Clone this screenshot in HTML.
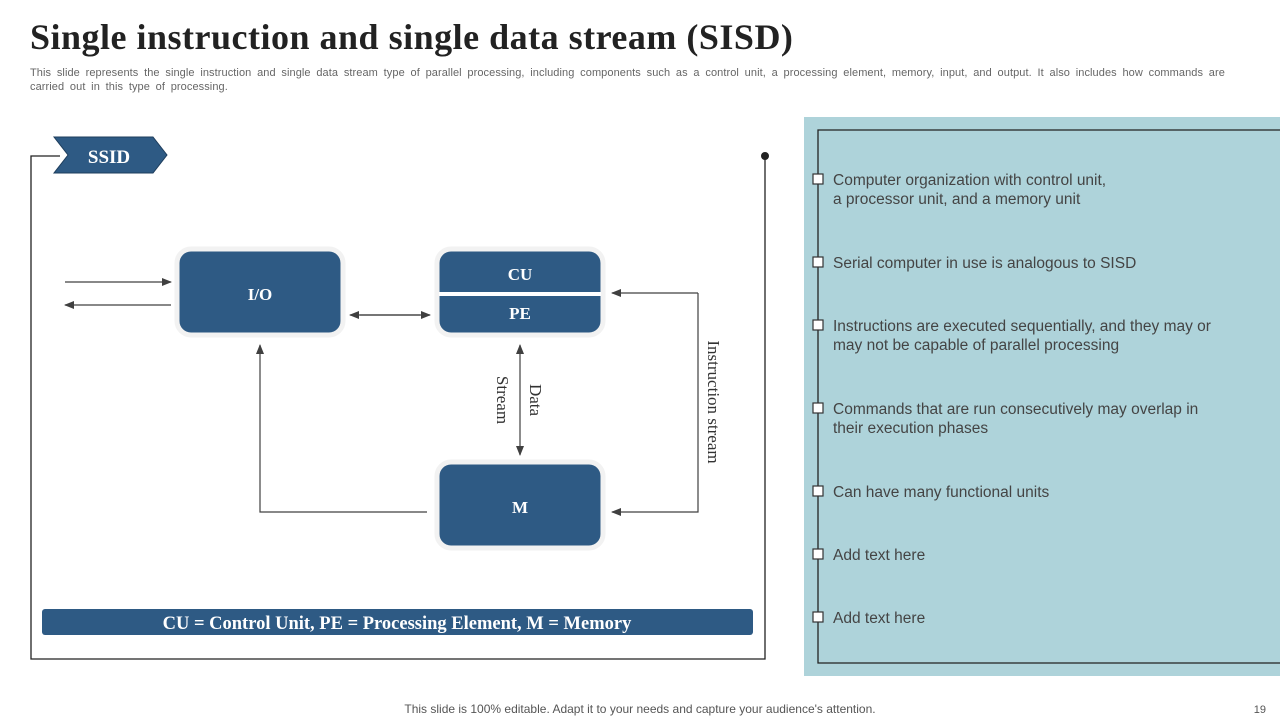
<!DOCTYPE html>
<html><head><meta charset="utf-8"><style>
body{margin:0;width:1280px;height:720px;background:#fff;position:relative;overflow:hidden;font-family:"Liberation Sans",sans-serif}
.t{position:absolute}
</style></head><body>
<div class="t" style="left:30px;top:16px;font:bold 36px 'Liberation Serif',serif;letter-spacing:0.5px;color:#222">Single instruction and single data stream (SISD)</div>
<div class="t" style="left:30px;top:66px;width:1240px;font-size:11px;line-height:14px;color:#666;white-space:nowrap;letter-spacing:0.08px;word-spacing:2.6px">This slide represents the single instruction and single data stream type of parallel processing, including components such as a control unit, a processing element, memory, input, and output. It also includes how commands are<br>carried out in this type of processing.</div>
<div class="t" style="left:804px;top:117px;width:476px;height:559px;background:#aed3da"></div>
<svg class="t" style="left:0;top:0" width="1280" height="720">
<defs><marker id="a" markerWidth="10" markerHeight="8" refX="9" refY="4" orient="auto" markerUnits="userSpaceOnUse"><path d="M0,0L10,4L0,8z" fill="#404040"/></marker></defs>
<g fill="none" stroke="#222" stroke-width="1.3">
<polyline points="60,156 31,156 31,659 765,659 765,156"/>
<polyline points="1280,130 818,130 818,663 1280,663"/>
</g>
<circle cx="765" cy="156" r="4" fill="#222"/>
<polygon points="54,137 153,137 167,155 153,173 54,173 68,155" fill="#2e5a84" stroke="#1e3d5c"/>
<text x="109" y="163" font-family="Liberation Serif" font-weight="bold" font-size="19" fill="#fff" text-anchor="middle">SSID</text>
<g fill="#2e5a84" stroke="#f2f2f2" stroke-width="5">
<rect x="177" y="249" width="166" height="86" rx="14"/>
<rect x="437" y="249" width="166" height="86" rx="14"/>
<rect x="437" y="462" width="166" height="86" rx="14"/>
</g>
<line x1="439" y1="294" x2="601" y2="294" stroke="#fff" stroke-width="4"/>
<g font-family="Liberation Serif" font-weight="bold" font-size="17" fill="#fff" text-anchor="middle">
<text x="260" y="300">I/O</text><text x="520" y="280">CU</text><text x="520" y="319">PE</text><text x="520" y="513">M</text>
</g>
<g stroke="#404040" stroke-width="1.2" fill="none">
<line x1="65" y1="282" x2="171" y2="282" marker-end="url(#a)"/>
<line x1="171" y1="305" x2="65" y2="305" marker-end="url(#a)"/>
<line x1="360" y1="315" x2="430" y2="315" marker-end="url(#a)"/>
<line x1="420" y1="315" x2="350" y2="315" marker-end="url(#a)"/>
<line x1="520" y1="400" x2="520" y2="345" marker-end="url(#a)"/>
<line x1="520" y1="400" x2="520" y2="455" marker-end="url(#a)"/>
<polyline points="698,293 612,293" marker-end="url(#a)"/>
<polyline points="698,293 698,512 612,512" marker-end="url(#a)"/>
<polyline points="427,512 260,512 260,345" marker-end="url(#a)"/>
</g>
<g font-family="Liberation Serif" font-size="17" fill="#333" text-anchor="middle">
<text transform="translate(530,400) rotate(90)">Data</text>
<text transform="translate(497,400) rotate(90)">Stream</text>
<text transform="translate(708,402) rotate(90)">Instruction stream</text>
</g>
<rect x="42" y="609" width="711" height="26" rx="3" fill="#2e5a84"/>
<text x="397" y="629" font-family="Liberation Serif" font-weight="bold" font-size="18.5" fill="#fff" text-anchor="middle">CU = Control Unit, PE = Processing Element, M = Memory</text>
<g fill="#fff" stroke="#333" stroke-width="1.2">
<rect x="813" y="174" width="10" height="10"/><rect x="813" y="257" width="10" height="10"/><rect x="813" y="320" width="10" height="10"/><rect x="813" y="403" width="10" height="10"/><rect x="813" y="486" width="10" height="10"/><rect x="813" y="549" width="10" height="10"/><rect x="813" y="612" width="10" height="10"/>
</g>
<g font-family="Liberation Sans" font-size="15.5" fill="#444">
<text x="833" y="185">Computer organization with control unit,</text>
<text x="833" y="204">a processor unit, and a memory unit</text>
<text x="833" y="268">Serial computer in use is analogous to SISD</text>
<text x="833" y="331">Instructions  are executed sequentially,  and they may or</text>
<text x="833" y="350">may not be capable of parallel processing</text>
<text x="833" y="414">Commands that are run consecutively may overlap in</text>
<text x="833" y="433">their execution phases</text>
<text x="833" y="497">Can have many functional  units</text>
<text x="833" y="560">Add text here</text>
<text x="833" y="623">Add text here</text>
</g>
<text x="640" y="713" font-family="Liberation Sans" font-size="12" fill="#555" text-anchor="middle">This slide is 100% editable. Adapt it to your needs and capture your audience's attention.</text>
<text x="1266" y="713" font-family="Liberation Sans" font-size="11" fill="#555" text-anchor="end">19</text>
</svg>
</body></html>
